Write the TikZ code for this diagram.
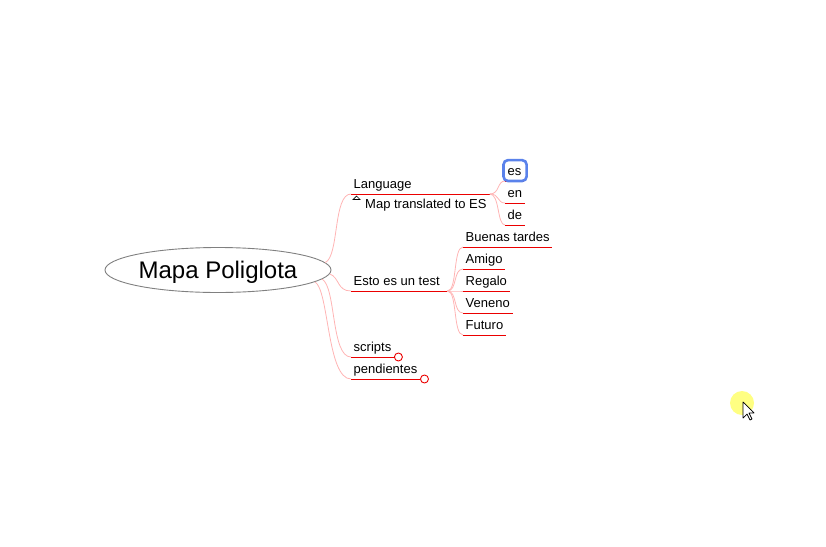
\documentclass[tikz,border=0pt]{standalone}
\usepackage{fontspec}
\setmainfont{Liberation Sans}
\usetikzlibrary{shapes}
\definecolor{brpink}{RGB}{255,180,180}
\definecolor{ulred}{RGB}{235,0,0}
\definecolor{selblue}{RGB}{90,130,235}
\definecolor{hilite}{RGB}{255,255,130}

\begin{document}
\begin{tikzpicture}[x=1pt,y=-1pt]
				\tikzset{every node/.style={font=\fontsize{13}{15}\selectfont}}
				\tikzset{topic/.style={anchor=south west,inner xsep=2.5pt,inner ysep=2pt,text height=9.5pt,text depth=3pt}}
				\tikzset{uline/.style={draw=ulred,line width=0.9pt}}
				\tikzset{branch/.style={draw=brpink,line width=0.8pt}}
				\tikzset{endmark/.style={circle,draw=ulred,fill=white,line width=0.9pt,inner sep=0pt,minimum size=8pt,anchor=west}}
				\useasboundingbox (0,0) rectangle (826,546);
				\node[ellipse,draw=gray,line width=0.9pt,inner sep=0pt,minimum width=226pt,minimum height=45pt,text depth=0pt,font=\fontsize{24}{28}\selectfont] (root) at (218,270) {Mapa Poliglota};
				\node[topic] (lang) at (351,194) {Language};
				\node[anchor=base west,inner sep=0pt] (note) at (365,208) {Map translated to ES};
				\draw[line width=0.7pt] (353,199.5) -- (356.5,196) -- (360,199.5) -- cycle;
				\coordinate (langend) at ([xshift=3pt]note.east |- lang.south);
				\draw[uline] (lang.south west) -- (langend);
				\node[topic] (esto) at (351,291) {Esto es un test};
				\coordinate (estoend) at ([xshift=5pt]esto.south east);
				\draw[uline] (esto.south west) -- (estoend);
				\node[topic] (scripts) at (351,357) {scripts};
				\node[topic] (pend) at (351,379) {pendientes};
				\draw[branch] (root.4) .. controls +(14,-6) and +(-18,0) .. (lang.south west);
				\draw[branch] (root.-2) .. controls +(10,4) and +(-14,0) .. (esto.south west);
				\draw[branch] (root.-5) .. controls +(14,8) and +(-20,0) .. (scripts.south west);
				\draw[branch] (root.-7) .. controls +(14,8) and +(-24,0) .. (pend.south west);
				\foreach \n in {scripts,pend} {
					\node[endmark] (\n mark) at (\n.south east) {};
					\draw[uline] (\n.south west) -- (\n mark.west);
				}
				\foreach \n/\y in {es/181,en/203,de/225} {
					\node[topic] (\n) at (505,\y) {\n};
					\draw[uline] (\n.south west) -- (\n.south east);
					\draw[branch] (langend) .. controls +(10,0) and +(-8,0) .. (\n.south west);
				}
				\draw[selblue,line width=2.6pt,rounded corners=4.5pt] ([xshift=-1.5pt,yshift=4pt]es.north west) rectangle ([xshift=2.5pt]es.south east);
				\foreach \n/\t/\y in {bt/Buenas tardes/247,am/Amigo/269,re/Regalo/291,ve/Veneno/313,fu/Futuro/335} {
					\node[topic] (\n) at (463,\y) {\t};
					\draw[uline] (\n.south west) -- (\n.south east);
					\draw[branch] (estoend) .. controls +(10,0) and +(-10,0) .. (\n.south west);
				}
				\fill[hilite] (742,403) circle (12);
				\draw[fill=white,line width=0.7pt,line join=round] (743,402) -- ++(0,16) -- ++(4,-4) -- ++(3,6) -- ++(2,-1) -- ++(-3,-6) -- ++(5,0) -- cycle;
			\end{tikzpicture}
\end{document}
